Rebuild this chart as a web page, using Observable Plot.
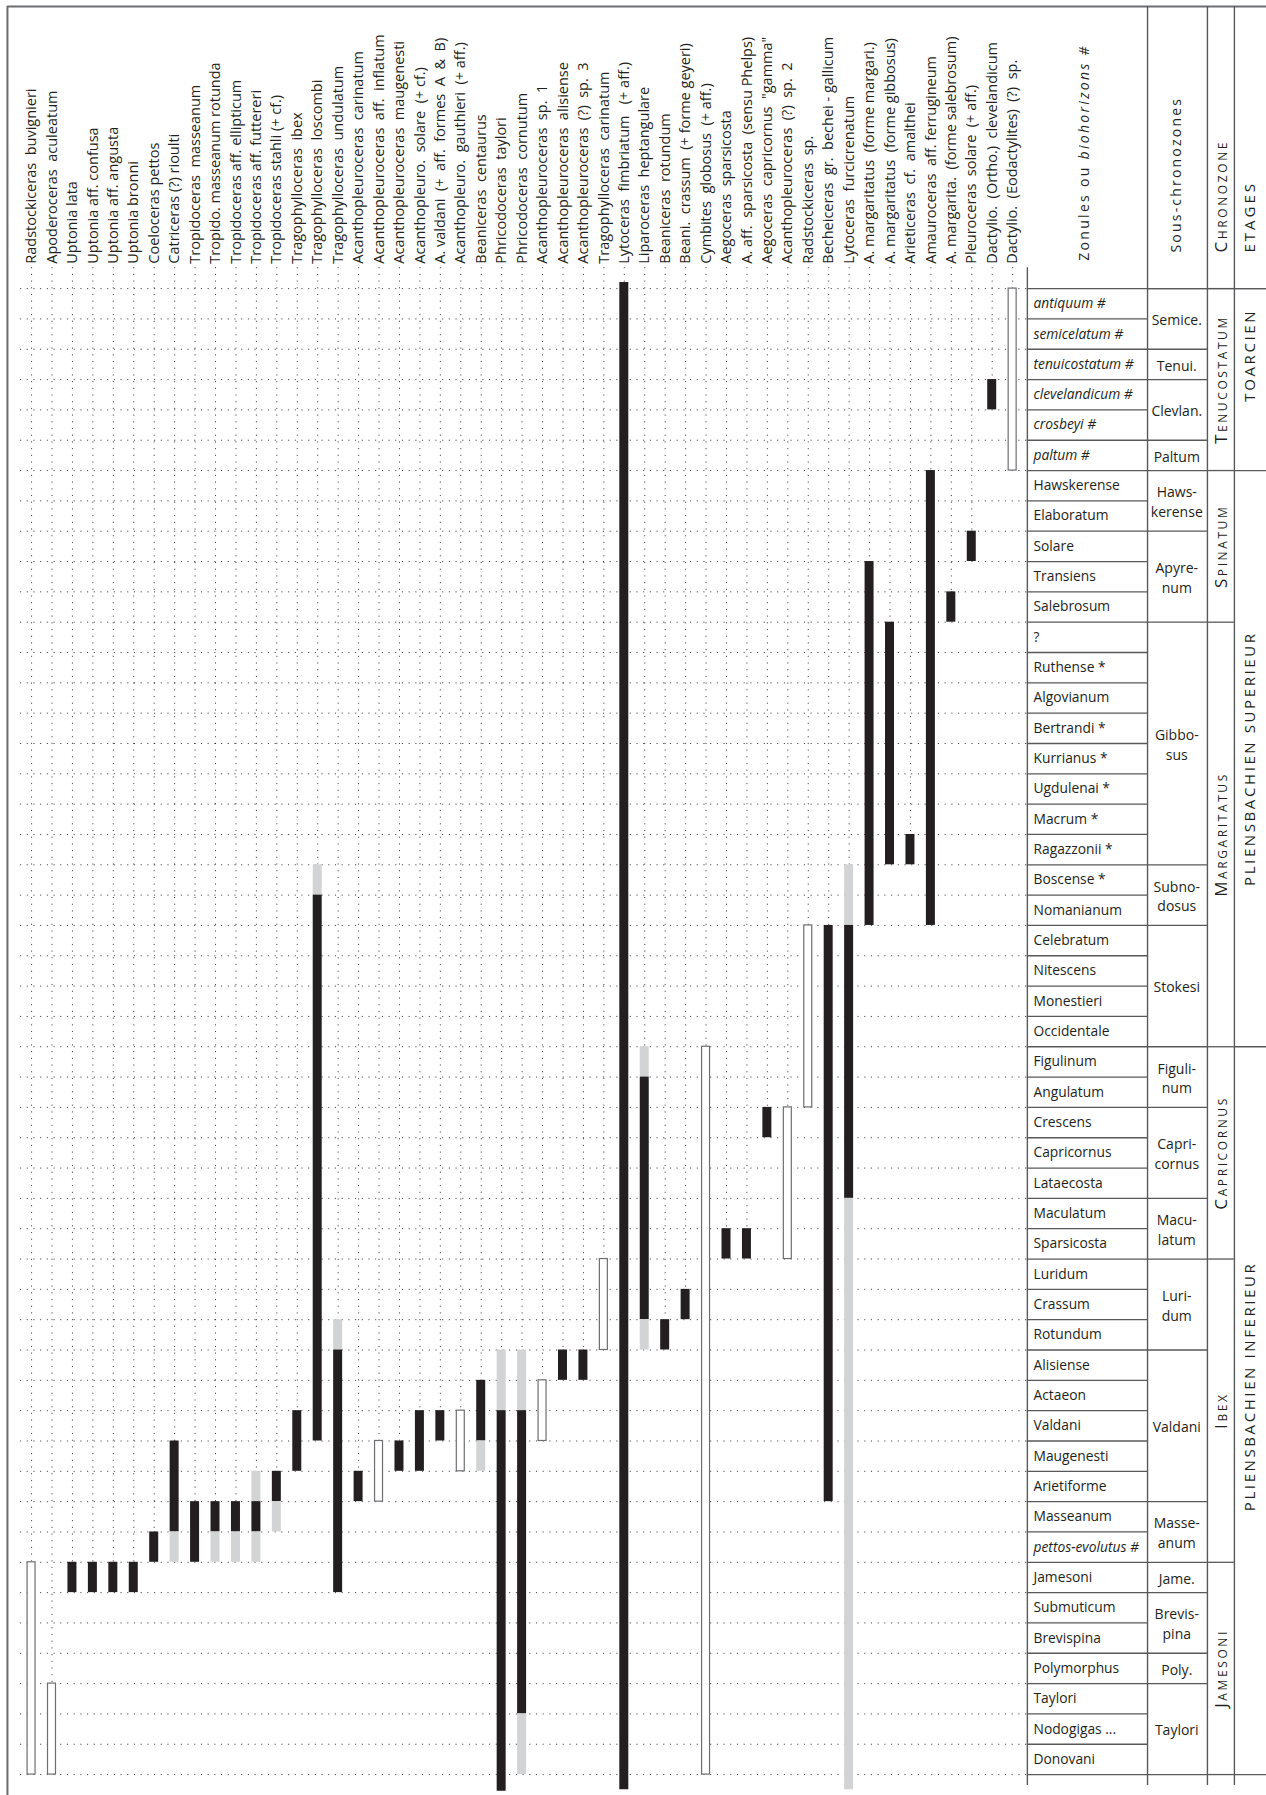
<!DOCTYPE html>
<html>
<head>
<meta charset="utf-8">
<script src="https://cdn.jsdelivr.net/npm/d3@7"></script>
<script src="https://cdn.jsdelivr.net/npm/@observablehq/plot@0.6"></script>
<style>
html, body { margin: 0; padding: 0; background: #fff; }
#chart svg { display: block; }
</style>
</head>
<body>
<div id="chart"></div>
<script>
// ---------------- DATA ----------------
// Taxa (columns, left to right)
const species = [
  "Radstockiceras  buvignieri", "Apoderoceras  aculeatum", "Uptonia lata", "Uptonia aff. confusa",
  "Uptonia aff. angusta", "Uptonia bronni", "Coeloceras pettos", "Catriceras (?) rioulti",
  "Tropidoceras  masseanum", "Tropido. masseanum rotunda", "Tropidoceras aff. ellipticum",
  "Tropidoceras aff. futtereri", "Tropidoceras stahli (+ cf.)", "Tragophylloceras  ibex",
  "Tragophylloceras  loscombi", "Tragophylloceras  undulatum", "Acanthopleuroceras  carinatum",
  "Acanthopleuroceras  aff.  inflatum", "Acanthopleuroceras  maugenesti", "Acanthopleuro.  solare  (+ cf.)",
  "A. valdani  (+  aff.  formes  A  &  B)", "Acanthopleuro.  gauthieri  (+ aff.)", "Beaniceras  centaurus",
  "Phricodoceras  taylori", "Phricodoceras  cornutum", "Acanthopleuroceras  sp.  1",
  "Acanthopleuroceras  alisiense", "Acanthopleuroceras  (?)  sp.  3", "Tragophylloceras  carinatum",
  "Lytoceras  fimbriatum   (+ aff.)", "Liparoceras  heptangulare", "Beaniceras  rotundum",
  "Beani.  crassum  (+ forme geyeri)", "Cymbites  globosus  (+ aff.)", "Aegoceras  sparsicosta",
  "A. aff.  sparsicosta  (sensu Phelps)", "Aegoceras  capricornus  \"gamma\"", "Acanthopleuroceras  (?)  sp.  2",
  "Radstockiceras  sp.", "Becheiceras  gr.  bechei - gallicum", "Lytoceras  furcicrenatum",
  "A. margaritatus  (forme margari.)", "A. margaritatus  (forme gibbosus)", "Arieticeras  cf.  amalthei",
  "Amauroceras  aff. ferrugineum", "A. margarita.  (forme salebrosum)", "Pleuroceras  solare  (+ aff.)",
  "Dactylio.  (Ortho.)  clevelandicum", "Dactylio.  (Eodactylites)  (?)  sp."
];

// Zonules / biohorizons (rows, top = youngest)
const zonules = [
  "antiquum #", "semicelatum #", "tenuicostatum #", "clevelandicum #", "crosbeyi #", "paltum #",
  "Hawskerense", "Elaboratum", "Solare", "Transiens", "Salebrosum",
  "?", "Ruthense *", "Algovianum", "Bertrandi *", "Kurrianus *", "Ugdulenai *", "Macrum *",
  "Ragazzonii *", "Boscense *", "Nomanianum", "Celebratum", "Nitescens", "Monestieri", "Occidentale",
  "Figulinum", "Angulatum", "Crescens", "Capricornus", "Lataecosta", "Maculatum", "Sparsicosta",
  "Luridum", "Crassum", "Rotundum", "Alisiense", "Actaeon", "Valdani", "Maugenesti", "Arietiforme",
  "Masseanum", "pettos-evolutus #",
  "Jamesoni", "Submuticum", "Brevispina", "Polymorphus", "Taylori", "Nodogigas ...", "Donovani"
];

// Sous-chronozones: [label, first row, row after last]
const sousChronozones = [
  ["Semice.", 0, 2], ["Tenui.", 2, 3], ["Clevlan.", 3, 5], ["Paltum", 5, 6],
  ["Haws-\nkerense", 6, 8], ["Apyre-\nnum", 8, 11], ["Gibbo-\nsus", 11, 19],
  ["Subno-\ndosus", 19, 21], ["Stokesi", 21, 25], ["Figuli-\nnum", 25, 27],
  ["Capri-\ncornus", 27, 30], ["Macu-\nlatum", 30, 32], ["Luri-\ndum", 32, 35],
  ["Valdani", 35, 40], ["Masse-\nanum", 40, 42], ["Jame.", 42, 43],
  ["Brevis-\npina", 43, 45], ["Poly.", 45, 46], ["Taylori", 46, 49]
];

// Chronozones: [label, first row, row after last]
const chronozones = [
  ["Tenucostatum", 0, 6], ["Spinatum", 6, 11], ["Margaritatus", 11, 25],
  ["Capricornus", 25, 32], ["Ibex", 32, 42], ["Jamesoni", 42, 49]
];

// Etages: [label, first row, row after last, label centre row]
const etages = [
  ["TOARCIEN", 0, 6, 2.2], ["PLIENSBACHIEN SUPERIEUR", 6, 25, 15.5], ["PLIENSBACHIEN INFERIEUR", 25, 49, 36.2]
];

// Ranges: [taxon number (1-based column), top row boundary, bottom row boundary, kind]
// kind: "black" = certain, "grey" = probable, "open" = open bar
const segments = [
  [1, 42, 49, "open"], [2, 46, 49, "open"],
  [3, 42, 43, "black"], [4, 42, 43, "black"], [5, 42, 43, "black"], [6, 42, 43, "black"],
  [7, 41, 42, "black"],
  [8, 38, 41, "black"], [8, 41, 42, "grey"],
  [9, 40, 42, "black"],
  [10, 40, 41, "black"], [10, 41, 42, "grey"],
  [11, 40, 41, "black"], [11, 41, 42, "grey"],
  [12, 39, 40, "grey"], [12, 40, 41, "black"], [12, 41, 42, "grey"],
  [13, 39, 40, "black"], [13, 40, 41, "grey"],
  [14, 37, 39, "black"],
  [15, 19, 20, "grey"], [15, 20, 38, "black"],
  [16, 34, 35, "grey"], [16, 35, 43, "black"],
  [17, 39, 40, "black"],
  [18, 38, 40, "open"],
  [19, 38, 39, "black"],
  [20, 37, 39, "black"],
  [21, 37, 38, "black"],
  [22, 37, 39, "open"],
  [23, 36, 38, "black"], [23, 38, 39, "grey"],
  [24, 35, 37, "grey"], [24, 37, 49.55, "black"],
  [25, 35, 37, "grey"], [25, 37, 47, "black"], [25, 47, 49, "grey"],
  [26, 36, 38, "open"],
  [27, 35, 36, "black"],
  [28, 35, 36, "black"],
  [29, 32, 35, "open"],
  [30, -0.2, 49.5, "black"],
  [31, 25, 26, "grey"], [31, 26, 34, "black"], [31, 34, 35, "grey"],
  [32, 34, 35, "black"],
  [33, 33, 34, "black"],
  [34, 25, 49, "open"],
  [35, 31, 32, "black"],
  [36, 31, 32, "black"],
  [37, 27, 28, "black"],
  [38, 27, 32, "open"],
  [39, 21, 27, "open"],
  [40, 21, 40, "black"],
  [41, 19, 21, "grey"], [41, 21, 30, "black"], [41, 30, 49.5, "grey"],
  [42, 9, 21, "black"],
  [43, 11, 19, "black"],
  [44, 18, 19, "black"],
  [45, 6, 21, "black"],
  [46, 10, 11, "black"],
  [47, 8, 9, "black"],
  [48, 3, 4, "black"],
  [49, 0, 6, "open"]
];

// Column headers of the stratigraphic table
const headers = {
  zonules: "Zonules ou biohorizons #", zonulesItalicPart: "biohorizons #",
  sous: "Sous-chronozones", chrono: "Chronozone", etages: "ETAGES"
};

// ---------------- LAYOUT (scale units: columns in x, rows in y) ----------------
const W = 1266, H = 1795;
const X_DOMAIN = [-0.52, 61.42];   // column units
const Y_DOMAIN = [-9.5, 49.69];    // row units (0 = top of first zonule)
const TBL = {left: 49.72, sous: 55.60, chrono: 58.53, etage: 59.85, right: 61.42};
const FRAME = {left: -0.18, top: -9.3};
const GRID = {x1: 0.46, top: -0.69};
const BOTTOM_EXT = 49.36;

const BLACK = "#231f20", GREY = "#d1d3d4", OUTLINE = "#6d6e71", LINE = "#58595b";
const FONT = "Open Sans";

const segs = segments.map(([col, top, bottom, kind]) => ({col, top, bottom, kind}));
const firstTop = species.map((name, i) => ({
  col: i + 1,
  top: d3.min(segs.filter(s => s.col === i + 1), s => s.top)
}));
const rowsAll = d3.range(0, zonules.length + 1);
const zon = zonules.map((name, i) => ({name, row: i + 0.5, italic: name.includes("#")}));
const sous = sousChronozones.map(([name, a, b]) => ({name, a, b, mid: (a + b) / 2}));
const chrono = chronozones.map(([name, a, b]) => ({name, a, b, mid: (a + b) / 2}));
const eta = etages.map(([name, a, b, mid]) => ({name, a, b, mid}));

const sousBounds = Array.from(new Set(sous.flatMap(d => [d.a, d.b])));
const chronoBounds = Array.from(new Set(chrono.flatMap(d => [d.a, d.b])));
const etageBounds = Array.from(new Set(eta.flatMap(d => [d.a, d.b])));

const BW = 0.44, OW = 0.39; // bar widths in column units

const chart = Plot.plot({
  width: W, height: H,
  marginTop: 0, marginRight: 0, marginBottom: 0, marginLeft: 0,
  style: {fontFamily: FONT, color: BLACK, background: "#fff"},
  x: {type: "linear", domain: X_DOMAIN, range: [0, W], axis: null},
  y: {type: "linear", domain: Y_DOMAIN, range: [0, H], axis: null},
  marks: [
    // dotted grid: horizontal at each zonule boundary
    Plot.ruleY(rowsAll, {y: d => d, x1: GRID.x1, x2: TBL.left, stroke: BLACK, strokeWidth: 1, strokeDasharray: "1.1 5.6", strokeOpacity: 0.85}),
    // dotted grid: vertical from header down to first occurrence
    Plot.ruleX(firstTop, {x: "col", y1: GRID.top, y2: "top", stroke: BLACK, strokeWidth: 1, strokeDasharray: "1.1 5.6", strokeOpacity: 0.85}),
    // frame
    Plot.ruleX([FRAME.left], {y1: FRAME.top, y2: Y_DOMAIN[1], stroke: OUTLINE, strokeWidth: 2}),
    Plot.ruleY([FRAME.top], {x1: FRAME.left, x2: TBL.right, stroke: OUTLINE, strokeWidth: 2}),
    // table verticals
    Plot.ruleX([TBL.left], {y1: GRID.top, y2: BOTTOM_EXT, stroke: LINE, strokeWidth: 1.4}),
    Plot.ruleX([TBL.sous, TBL.chrono, TBL.etage], {y1: FRAME.top, y2: BOTTOM_EXT, stroke: LINE, strokeWidth: 1.4}),
    // table horizontals
    Plot.ruleY([0], {x1: TBL.left, x2: TBL.right, stroke: LINE, strokeWidth: 1.4}),
    Plot.ruleY(rowsAll.slice(1), {y: d => d, x1: TBL.left, x2: TBL.sous, stroke: LINE, strokeWidth: 1.3}),
    Plot.ruleY(sousBounds, {y: d => d, x1: TBL.sous, x2: TBL.chrono, stroke: LINE, strokeWidth: 1.3}),
    Plot.ruleY(chronoBounds, {y: d => d, x1: TBL.chrono, x2: TBL.etage, stroke: LINE, strokeWidth: 1.3}),
    Plot.ruleY(etageBounds, {y: d => d, x1: TBL.etage, x2: TBL.right, stroke: LINE, strokeWidth: 1.3}),
    // range bars
    Plot.rect(segs.filter(d => d.kind !== "open"), {
      x1: d => d.col - BW / 2, x2: d => d.col + BW / 2, y1: "top", y2: "bottom",
      fill: d => d.kind === "black" ? BLACK : GREY
    }),
    Plot.rect(segs.filter(d => d.kind === "open"), {
      x1: d => d.col - OW / 2, x2: d => d.col + OW / 2, y1: "top", y2: "bottom",
      fill: "#fff", stroke: OUTLINE, strokeWidth: 1.2
    }),
    // taxa labels
    Plot.text(species, {
      x: (d, i) => i + 1, y: -0.82, text: d => d, rotate: -90,
      textAnchor: "start", lineAnchor: "middle", fontSize: 14.5, fill: BLACK
    }),
    // column headers
    Plot.text([headers.zonules], {x: 52.51, y: -0.92, text: d => d, rotate: -90, textAnchor: "start", lineAnchor: "middle", fontSize: 14, fill: BLACK}),
    Plot.text([headers.sous], {x: 57.03, y: -1.19, text: d => d, rotate: -90, textAnchor: "start", lineAnchor: "middle", fontSize: 14, fill: BLACK}),
    Plot.text([headers.chrono], {x: 59.22, y: -1.19, text: d => d, rotate: -90, textAnchor: "start", lineAnchor: "middle", fontSize: 17, fontVariant: "small-caps", fill: BLACK}),
    Plot.text([headers.etages], {x: 60.63, y: -1.19, text: d => d, rotate: -90, textAnchor: "start", lineAnchor: "middle", fontSize: 15, fill: BLACK}),
    // zonules
    Plot.text(zon.filter(d => !d.italic), {x: 50.02, y: "row", text: "name", textAnchor: "start", fontSize: 13.8, fill: BLACK}),
    Plot.text(zon.filter(d => d.italic), {x: 50.02, y: "row", text: "name", textAnchor: "start", fontSize: 13.8, fontStyle: "italic", fill: BLACK}),
    // sous-chronozones
    Plot.text(sous, {x: 57.03, y: "mid", text: "name", textAnchor: "middle", lineAnchor: "middle", lineHeight: 1.4, fontSize: 14, fill: BLACK}),
    // chronozones
    Plot.text(chrono, {x: 59.22, y: "mid", text: "name", rotate: -90, textAnchor: "middle", lineAnchor: "middle", fontSize: 17, fontVariant: "small-caps", fill: BLACK}),
    // etages
    Plot.text(eta, {x: 60.63, y: "mid", text: "name", rotate: -90, textAnchor: "middle", lineAnchor: "middle", fontSize: 15, fill: BLACK})
  ]
});

// typographic tweaks (letter spacing, preserved double spaces, italic run) on the rotated labels only
const speciesSet = new Set(species);
const chronoSet = new Set([...chronozones.map(d => d[0]), headers.chrono]);
const etageSet = new Set(etages.map(d => d[0]));
d3.select(chart).selectAll("text").each(function() {
  const rotated = (this.getAttribute("transform") || "").includes("rotate");
  if (!rotated) return;
  const t = this.textContent;
  if (speciesSet.has(t)) { this.setAttribute("xml:space", "preserve"); this.style.whiteSpace = "pre"; }
  else if (chronoSet.has(t)) this.setAttribute("letter-spacing", "2.6");
  else if (etageSet.has(t)) this.setAttribute("letter-spacing", "2.6");
  else if (t === headers.etages) this.setAttribute("letter-spacing", "3");
  else if (t === headers.sous) this.setAttribute("letter-spacing", "2.2");
  else if (t === headers.zonules) {
    const plain = t.slice(0, t.length - headers.zonulesItalicPart.length);
    const el = d3.select(this).text(null).attr("letter-spacing", "2.3").style("white-space", "pre");
    el.append("tspan").text(plain);
    el.append("tspan").attr("font-style", "italic").text(headers.zonulesItalicPart);
  }
});

document.getElementById("chart").appendChild(chart);
</script>
</body>
</html>
